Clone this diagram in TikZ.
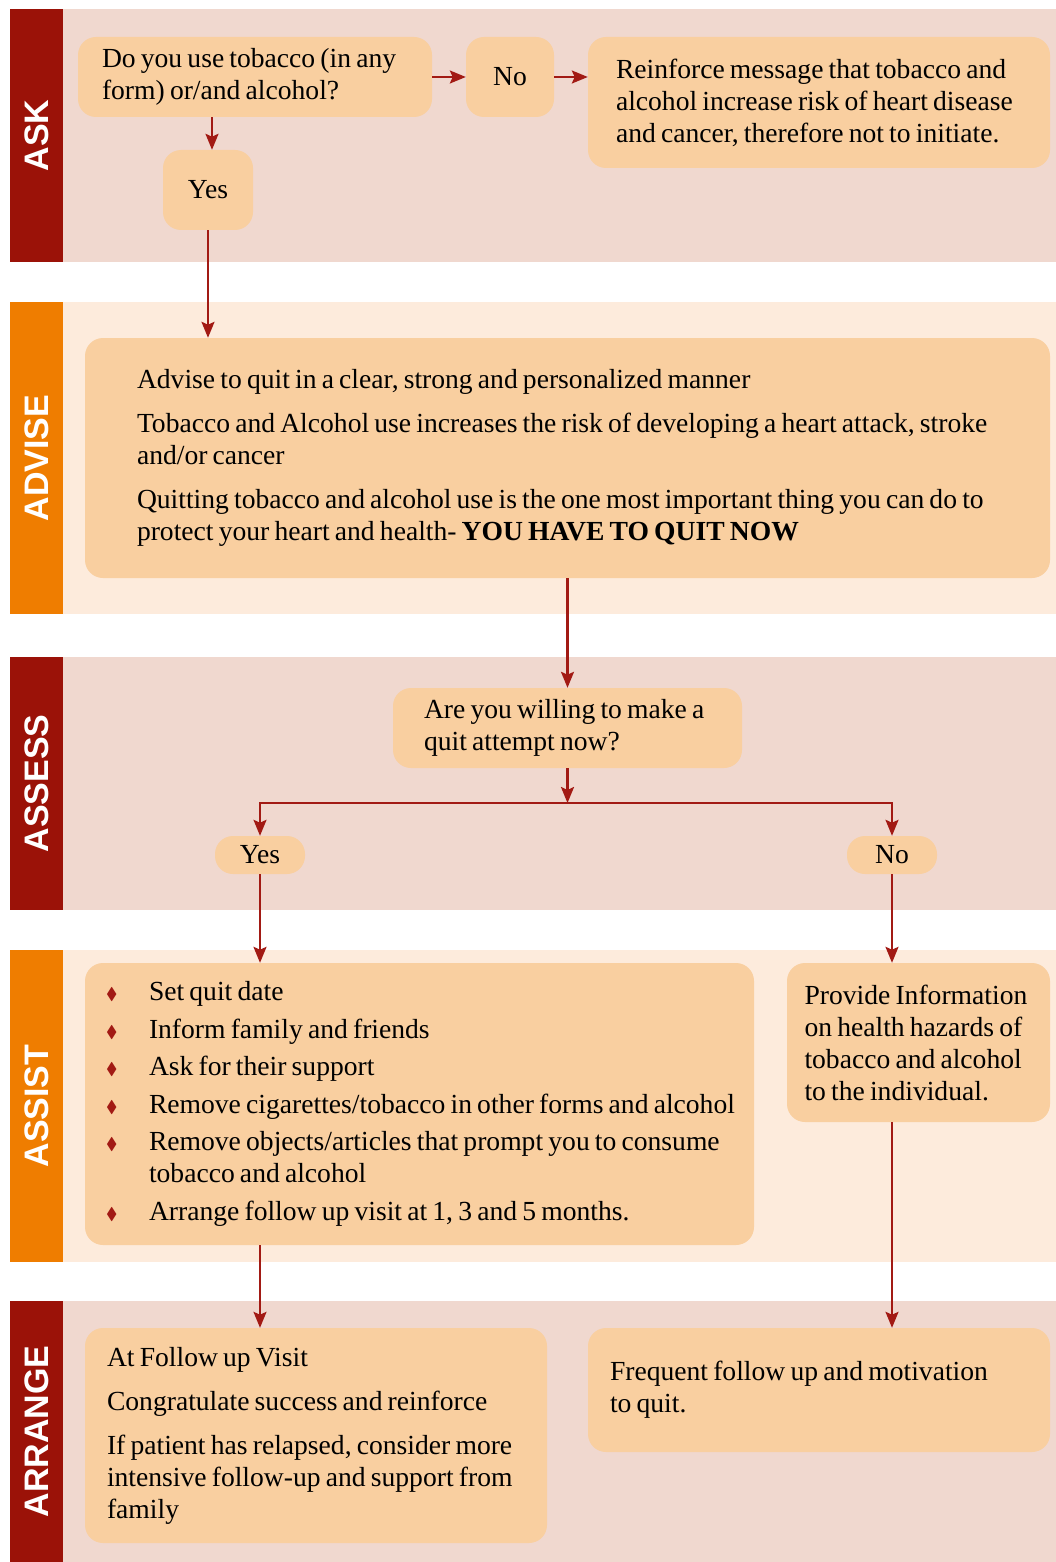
\documentclass[tikz,border=0pt]{standalone}
\usepackage{fontspec}
\usepackage{amssymb}
\setmainfont{Liberation Serif}[WordSpace=0.75]
\newfontfamily\labfont{Liberation Sans}
\usetikzlibrary{arrows.meta}
\definecolor{barred}{HTML}{9B1208}
\definecolor{barorange}{HTML}{EF7D00}
\definecolor{bgpink}{HTML}{F0D8CF}
\definecolor{bgcream}{HTML}{FDEBDC}
\definecolor{boxfill}{HTML}{F9CFA0}
\definecolor{arrowred}{HTML}{A21A14}
\newcommand{\bul}{\makebox[49pt][l]{\hspace{6pt}\raisebox{1pt}{\textcolor{arrowred}{\fontsize{17}{17}\selectfont$\blacklozenge$}}}}

\begin{document}
\begin{tikzpicture}[x=1pt, y=-1pt]
      \tikzstyle{STY1} = [fill=boxfill, rounded corners=18pt, inner xsep=0pt, inner ysep=0pt, align=flush left, font=\fontsize{27.6}{32}\selectfont]
      \tikzstyle{STY2} = [-{Stealth[length=16pt, width=13pt, inset=3pt]}, draw=arrowred, line width=2.4pt]
      \tikzstyle{STY3} = [rotate=90, text=white, font=\labfont\bfseries\fontsize{34}{34}\selectfont]

      \useasboundingbox (0,0) rectangle (1056,1562);

      %%%%% BANDS

      \fill[bgpink] (63,9) rectangle (1056,262);
      \fill[barred] (10,9) rectangle (63,262);
      \node[STY3](ask) at (36.5,135.5) {ASK};

      \fill[bgcream] (63,302) rectangle (1056,614);
      \fill[barorange] (10,302) rectangle (63,614);
      \node[STY3](advise) at (36.5,458) {ADVISE};

      \fill[bgpink] (63,657) rectangle (1056,910);
      \fill[barred] (10,657) rectangle (63,910);
      \node[STY3](assess) at (36.5,783.5) {ASSESS};

      \fill[bgcream] (63,950) rectangle (1056,1262);
      \fill[barorange] (10,950) rectangle (63,1262);
      \node[STY3](assist) at (36.5,1106) {ASSIST};

      \fill[bgpink] (63,1301) rectangle (1056,1562);
      \fill[barred] (10,1301) rectangle (63,1562);
      \node[STY3](arrange) at (36.5,1431.5) {ARRANGE};

      %%%%% BOXES

      \node[STY1, minimum width=354, minimum height=80, text width=306](q1) at (255,77)
        {Do you use tobacco (in any\\form) or/and alcohol?};
      \node[STY1, minimum width=88, minimum height=80](no1) at (510,77) {No};
      \node[STY1, minimum width=462, minimum height=131, text width=406](reinf) at (819,102.5)
        {Reinforce message that tobacco and\\alcohol increase risk of heart disease\\and cancer, therefore not to initiate.};
      \node[STY1, minimum width=90, minimum height=80](yes1) at (208,190) {Yes};

      \node[STY1, minimum width=965, minimum height=240, text width=861](adv) at (567.5,458)
        {Advise to quit in a clear, strong and personalized manner\\[12pt]
         Tobacco and Alcohol use increases the risk of developing a heart attack, stroke\\and/or cancer\\[12pt]
         Quitting tobacco and alcohol use is the one most important thing you can do to\\protect your heart and health- \textbf{YOU HAVE TO QUIT NOW}};

      \node[STY1, minimum width=349, minimum height=80, text width=287](aq) at (567.5,728)
        {Are you willing to make a\\quit attempt now?};
      \coordinate (split) at (567.5,803);
      \node[STY1, minimum width=90, minimum height=38](yes2) at (260,855) {Yes};
      \node[STY1, minimum width=90, minimum height=38](no2) at (892,855) {No};

      \node[STY1, minimum width=669, minimum height=282, text width=639](help) at (419.5,1104)
        {\bul Set quit date\\[5.5pt]
         \bul Inform family and friends\\[5.5pt]
         \bul Ask for their support\\[5.5pt]
         \bul Remove cigarettes/tobacco in other forms and alcohol\\[5.5pt]
         \bul Remove objects/articles that prompt you to consume\\\hspace*{49pt}tobacco and alcohol\\[5.5pt]
         \bul Arrange follow up visit at 1, 3 and 5 months.};
      \node[STY1, minimum width=263, minimum height=159, text width=228](info) at (918.5,1042.5)
        {Provide Information\\on health hazards of\\tobacco and alcohol\\to the individual.};

      \node[STY1, minimum width=462, minimum height=215, text width=418](visit) at (316,1435.5)
        {At Follow up Visit\\[12pt]
         Congratulate success and reinforce\\[12pt]
         If patient has relapsed, consider more\\intensive follow-up and support from\\family};
      \node[STY1, minimum width=462, minimum height=124, text width=418](motiv) at (819,1390)
        {Frequent follow up and motivation\\to quit.};

      %%%%% EDGES

      \draw[STY2] (q1) -- (no1);
      \draw[STY2] (no1.east) -- (no1.east -| reinf.west);
      \draw[STY2] ([xshift=4pt]yes1 |- q1.south) -- ([xshift=4pt]yes1.north);
      \draw[STY2] (yes1.south) -- (yes1.south |- adv.north);
      \draw[STY2] (adv) -- (aq);
      \draw[STY2] (aq.south) -- (split);
      \draw[STY2] (split) -| (yes2);
      \draw[STY2] (split) -| (no2);
      \draw[STY2] (yes2.south) -- (yes2.south |- help.north);
      \draw[STY2] (no2.south) -- (no2.south |- info.north);
      \draw[STY2] (yes2 |- help.south) -- (yes2 |- visit.north);
      \draw[STY2] (no2 |- info.south) -- (no2 |- motiv.north);

\end{tikzpicture}
\end{document}
